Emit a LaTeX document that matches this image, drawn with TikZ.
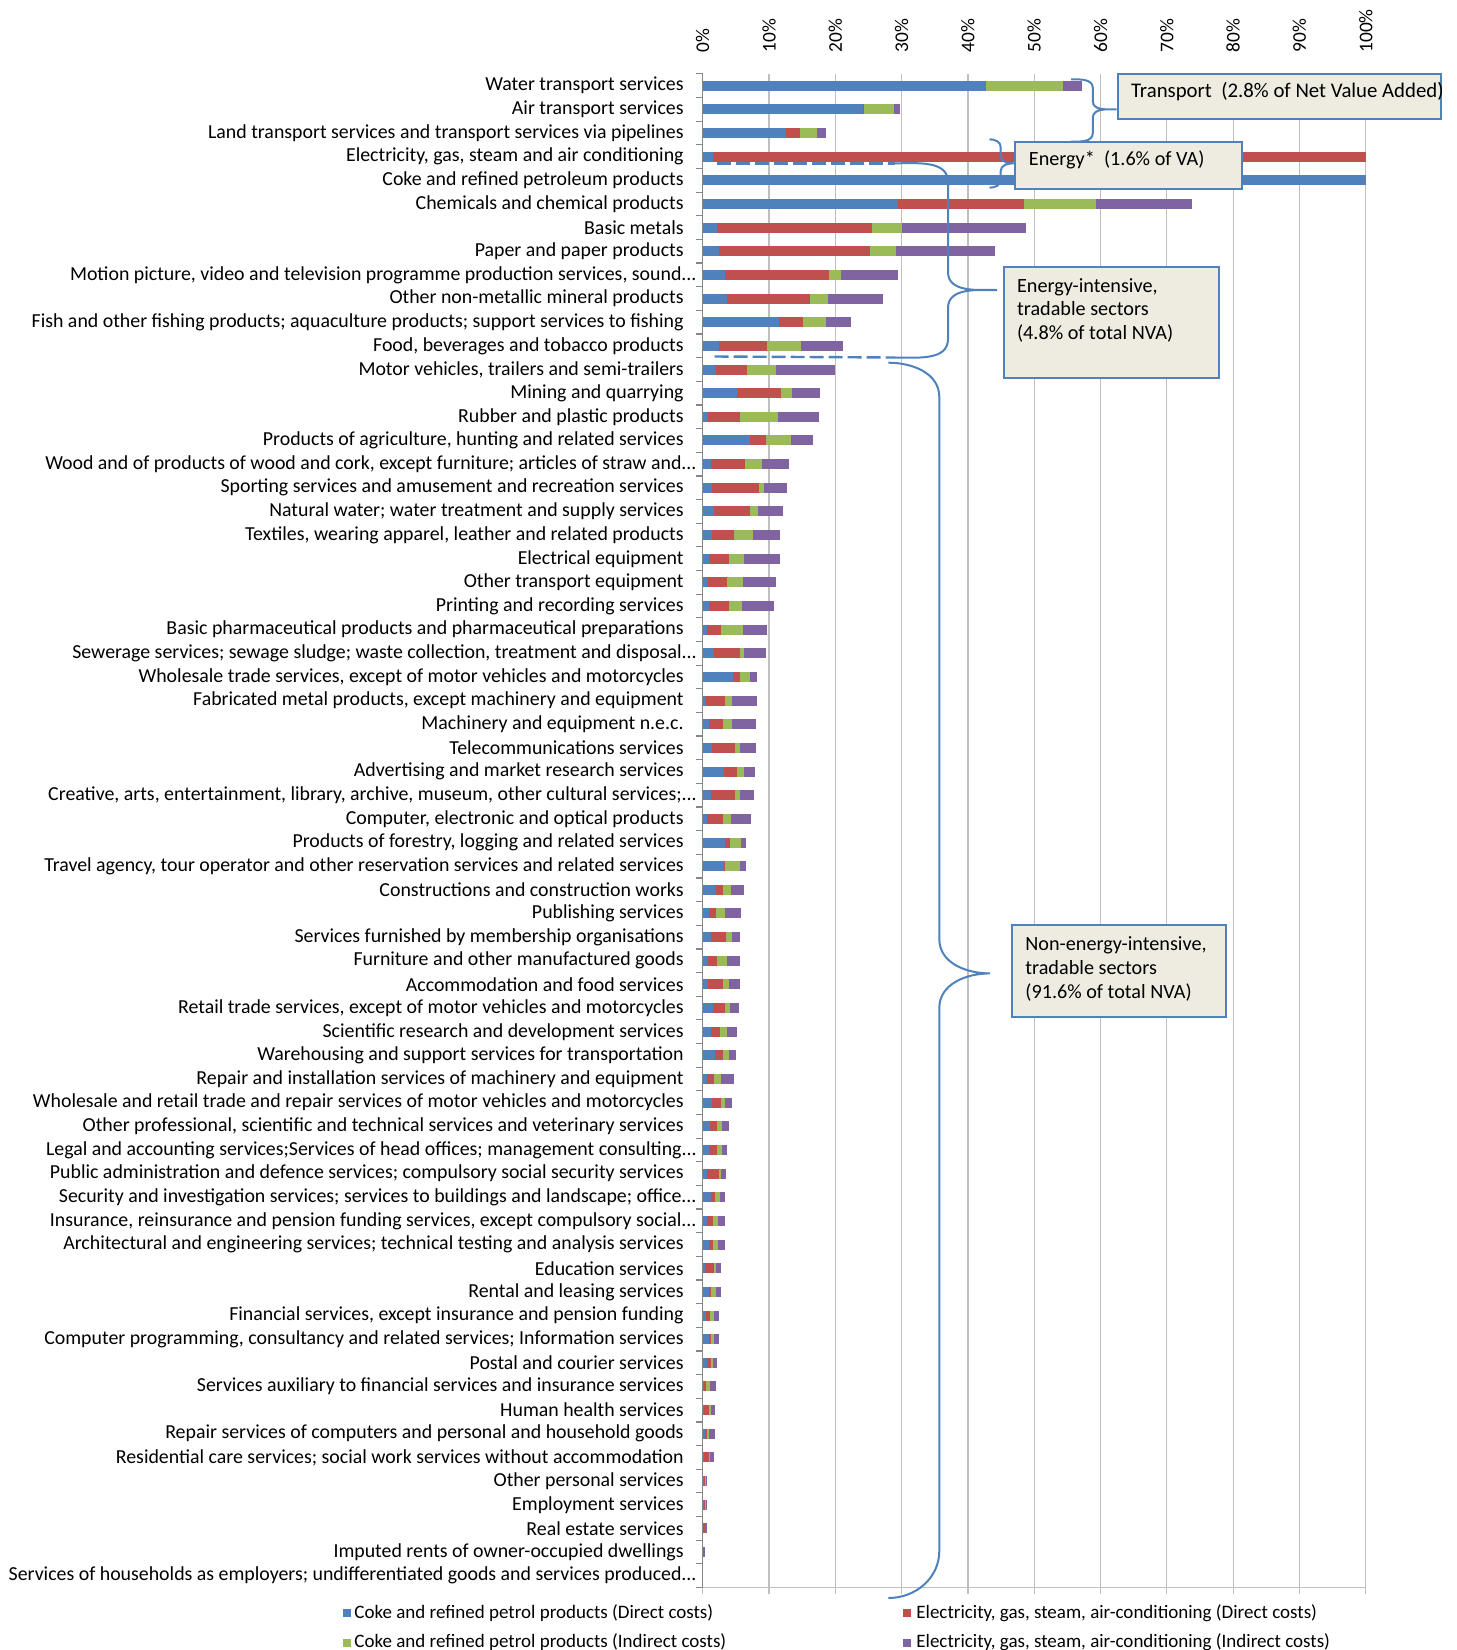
\documentclass[tikz,border=0pt]{standalone}
\usepackage{fontspec}
\setmainfont{Carlito}
\definecolor{cblue}{HTML}{4F81BD}
\definecolor{cred}{HTML}{C0504D}
\definecolor{cgreen}{HTML}{9BBB59}
\definecolor{cpurple}{HTML}{8064A2}
\definecolor{boxfill}{HTML}{EEECE1}
\definecolor{gridc}{HTML}{BFBFBF}
\definecolor{axisc}{HTML}{868686}
\tikzset{
  lab/.style={anchor=east, inner sep=0pt, font=\fontsize{9.93}{11}\selectfont},
  pct/.style={anchor=west, rotate=90, inner sep=0pt, font=\fontsize{9.7}{11}\selectfont},
  bracepath/.style={draw=cblue, line width=1pt},
  dashline/.style={draw=cblue, line width=1.2pt, dash pattern=on 7pt off 2.5pt},
  notebox/.style={draw=cblue, line width=1pt, fill=boxfill, inner sep=0pt, anchor=north west},
  notetext/.style={inner sep=0pt, align=left, font=\fontsize{10.1}{11.8}\selectfont},
  legtext/.style={anchor=west, inner sep=0pt, font=\fontsize{9.5}{11}\selectfont},
}
\begin{document}
\begin{tikzpicture}[x=0.5pt,y=-0.5pt]
\useasboundingbox (0,0) rectangle (1457,1650);
\clip (0,0) rectangle (1457,1650);
% gridlines
\foreach \k in {1,...,10} {
  \draw[gridc, line width=0.6pt] ({702.7+66.3*\k},73.9) -- ({702.7+66.3*\k},1587.5);
}
\foreach \k in {0,...,10} {
  \draw[gridc, line width=0.6pt] ({702.7+66.3*\k},1587.5) -- ({702.7+66.3*\k},1594);
  \node[pct] (p\k) at ({702.7+66.3*\k},53) {\pgfmathtruncatemacro\pp{10*\k}\pp\%};
}
\draw[gridc, line width=0.6pt] (702.7,1587.5) -- (1365.7,1587.5);
\draw[axisc, line width=0.6pt] (702.7,73.9) -- (702.7,1587.5);
\foreach \k in {0,...,64} {
  \draw[axisc, line width=0.6pt] (696,{73.875+23.65*\k}) -- (702.7,{73.875+23.65*\k});
}
% bars
\foreach \i/\a/\b/\c/\d in {
1/42.7/42.7/54.3/57.2, 2/24.2/24.4/28.8/29.8, 3/12.6/14.7/17.2/18.6, 4/1.5/100/100/100,
5/100/100/100/100, 6/29.4/48.5/59.3/73.8, 7/2.1/25.6/30.0/48.7, 8/2.4/25.3/29.1/44.1,
9/3.4/19.1/20.9/29.5, 10/3.7/16.2/18.9/27.2, 11/11.5/15.1/18.6/22.4, 12/2.5/9.7/14.8/21.1,
13/2.0/6.7/11.1/19.9, 14/5.1/11.8/13.5/17.7, 15/0.8/5.7/11.3/17.5, 16/7.2/9.5/13.3/16.6,
17/1.2/6.4/8.9/13.0, 18/1.4/8.5/9.3/12.7, 19/1.7/7.1/8.3/12.1, 20/1.4/4.7/7.6/11.7,
21/1.0/4.0/6.3/11.6, 22/0.8/3.6/6.1/11.0, 23/1.0/4.0/5.9/10.8, 24/0.6/2.8/6.1/9.7,
25/1.7/5.6/6.3/9.6, 26/4.6/5.7/7.1/8.2, 27/0.5/3.3/4.4/8.2, 28/1.0/3.0/4.4/8.0,
29/1.4/4.9/5.6/8.0, 30/3.2/5.2/6.2/7.9, 31/1.2/4.9/5.6/7.7, 32/0.7/3.0/4.3/7.3,
33/3.3/4.1/5.8/6.6, 34/3.2/3.3/5.6/6.6, 35/2.0/3.0/4.3/6.3, 36/1.0/2.0/3.3/5.8,
37/1.3/3.5/4.4/5.7, 38/0.8/2.2/3.6/5.7, 39/0.8/3.0/3.9/5.7, 40/1.5/3.4/4.1/5.5,
41/1.3/2.6/3.6/5.1, 42/1.8/3.1/3.9/5.0, 43/0.7/1.7/2.7/4.7, 44/1.4/2.8/3.4/4.4,
45/1.1/2.2/2.9/3.9, 46/1.0/2.2/2.9/3.7, 47/0.7/2.4/2.7/3.5, 48/1.3/1.9/2.6/3.4,
49/0.7/1.5/2.3/3.3, 50/1.0/1.6/2.3/3.3, 51/0.3/1.7/2.0/2.8, 52/1.0/1.3/2.0/2.7,
53/0.55/1.1/1.7/2.5, 54/1.0/1.3/1.7/2.4, 55/0.65/1.3/1.6/2.1, 56/0.2/0.5/1.1/2.0,
57/0.25/1.0/1.3/1.8, 58/0.35/0.65/1.0/1.8, 59/0.25/1.0/1.1/1.7, 60/0.2/0.35/0.5/0.65,
61/0.2/0.35/0.5/0.6, 62/0.0/0.35/0.35/0.6, 63/0/0/0/0.3, 64/0/0/0/0} {
  \pgfmathsetmacro\yy{85.7+(\i-1)*23.65}
  \fill[cblue] (702.7,{\yy-5}) rectangle ({702.7+6.63*\a},{\yy+5});
  \fill[cred] ({702.7+6.63*\a},{\yy-5}) rectangle ({702.7+6.63*\b},{\yy+5});
  \fill[cgreen] ({702.7+6.63*\b},{\yy-5}) rectangle ({702.7+6.63*\c},{\yy+5});
  \fill[cpurple] ({702.7+6.63*\c},{\yy-5}) rectangle ({702.7+6.63*\d},{\yy+5});
}
% labels
\def\lx{684}
\def\tx{697}
\node[lab] (l1) at (\lx,85.7) {Water transport services};
\node[lab] (l2) at (\lx,109.35) {Air transport services};
\node[lab] (l3) at (\lx,133.0) {Land transport services and transport services via pipelines};
\node[lab] (l4) at (\lx,156.65) {Electricity, gas, steam and air conditioning};
\node[lab] (l5) at (\lx,180.3) {Coke and refined petroleum products};
\node[lab] (l6) at (\lx,203.95) {Chemicals and chemical products};
\node[lab] (l7) at (\lx,227.6) {Basic metals};
\node[lab] (l8) at (\lx,251.25) {Paper and paper products};
\node[lab] (l9) at (\tx,274.9) {Motion picture, video and television programme production services, sound...};
\node[lab] (l10) at (\lx,298.55) {Other non-metallic mineral products};
\node[lab] (l11) at (\lx,322.2) {Fish and other fishing products; aquaculture products; support services to fishing};
\node[lab] (l12) at (\lx,345.85) {Food, beverages and tobacco products};
\node[lab] (l13) at (\lx,369.5) {Motor vehicles, trailers and semi-trailers};
\node[lab] (l14) at (\lx,393.15) {Mining and quarrying};
\node[lab] (l15) at (\lx,416.8) {Rubber and plastic products};
\node[lab] (l16) at (\lx,440.45) {Products of agriculture, hunting and related services};
\node[lab] (l17) at (\tx,464.1) {Wood and of products of wood and cork, except furniture; articles of straw and...};
\node[lab] (l18) at (\lx,487.75) {Sporting services and amusement and recreation services};
\node[lab] (l19) at (\lx,511.4) {Natural water; water treatment and supply services};
\node[lab] (l20) at (\lx,535.05) {Textiles, wearing apparel, leather and related products};
\node[lab] (l21) at (\lx,558.7) {Electrical equipment};
\node[lab] (l22) at (\lx,582.35) {Other transport equipment};
\node[lab] (l23) at (\lx,606.0) {Printing and recording services};
\node[lab] (l24) at (\lx,629.65) {Basic pharmaceutical products and pharmaceutical preparations};
\node[lab] (l25) at (\tx,653.3) {Sewerage services; sewage sludge; waste collection, treatment and disposal...};
\node[lab] (l26) at (\lx,676.95) {Wholesale trade services, except of motor vehicles and motorcycles};
\node[lab] (l27) at (\lx,700.6) {Fabricated metal products, except machinery and equipment};
\node[lab] (l28) at (\lx,724.25) {Machinery and equipment n.e.c.};
\node[lab] (l29) at (\lx,747.9) {Telecommunications services};
\node[lab] (l30) at (\lx,771.55) {Advertising and market research services};
\node[lab] (l31) at (\tx,795.2) {Creative, arts, entertainment, library, archive, museum, other cultural services;...};
\node[lab] (l32) at (\lx,818.85) {Computer, electronic and optical products};
\node[lab] (l33) at (\lx,842.5) {Products of forestry, logging and related services};
\node[lab] (l34) at (\lx,866.15) {Travel agency, tour operator and other reservation services and related services};
\node[lab] (l35) at (\lx,889.8) {Constructions and construction works};
\node[lab] (l36) at (\lx,913.45) {Publishing services};
\node[lab] (l37) at (\lx,937.1) {Services furnished by membership organisations};
\node[lab] (l38) at (\lx,960.75) {Furniture and other manufactured goods};
\node[lab] (l39) at (\lx,984.4) {Accommodation and food services};
\node[lab] (l40) at (\lx,1008.05) {Retail trade services, except of motor vehicles and motorcycles};
\node[lab] (l41) at (\lx,1031.7) {Scientific research and development services};
\node[lab] (l42) at (\lx,1055.35) {Warehousing and support services for transportation};
\node[lab] (l43) at (\lx,1079.0) {Repair and installation services of machinery and equipment};
\node[lab] (l44) at (\lx,1102.65) {Wholesale and retail trade and repair services of motor vehicles and motorcycles};
\node[lab] (l45) at (\lx,1126.3) {Other professional, scientific and technical services and veterinary services};
\node[lab] (l46) at (\tx,1149.95) {Legal and accounting services;Services of head offices; management consulting...};
\node[lab] (l47) at (\lx,1173.6) {Public administration and defence services; compulsory social security services};
\node[lab] (l48) at (\tx,1197.25) {Security and investigation services; services to buildings and landscape; office...};
\node[lab] (l49) at (\tx,1220.9) {Insurance, reinsurance and pension funding services, except compulsory social...};
\node[lab] (l50) at (\lx,1244.55) {Architectural and engineering services; technical testing and analysis services};
\node[lab] (l51) at (\lx,1268.2) {Education services};
\node[lab] (l52) at (\lx,1291.85) {Rental and leasing services};
\node[lab] (l53) at (\lx,1315.5) {Financial services, except insurance and pension funding};
\node[lab] (l54) at (\lx,1339.15) {Computer programming, consultancy and related services; Information services};
\node[lab] (l55) at (\lx,1362.8) {Postal and courier services};
\node[lab] (l56) at (\lx,1386.45) {Services auxiliary to financial services and insurance services};
\node[lab] (l57) at (\lx,1410.1) {Human health services};
\node[lab] (l58) at (\lx,1433.75) {Repair services of computers and personal and household goods};
\node[lab] (l59) at (\lx,1457.4) {Residential care services; social work services without accommodation};
\node[lab] (l60) at (\lx,1481.05) {Other personal services};
\node[lab] (l61) at (\lx,1504.7) {Employment services};
\node[lab] (l62) at (\lx,1528.35) {Real estate services};
\node[lab] (l63) at (\lx,1552.0) {Imputed rents of owner-occupied dwellings};
\node[lab] (l64) at (\tx,1575.65) {Services of households as employers; undifferentiated goods and services produced...};
% braces
\draw[bracepath] (1071,79.3) to[out=0,in=90] (1092.8,88) -- (1092.8,101) to[out=-90,in=180] (1116.6,109.3)
  to[out=180,in=90] (1092.8,118) -- (1092.8,133) to[out=-90,in=0] (1071,141.7);
\draw[bracepath] (989.5,139.3) to[out=0,in=90] (1000.7,147) -- (1000.7,156) to[out=-90,in=180] (1013.9,163.3)
  to[out=180,in=90] (1000.7,171) -- (1000.7,180) to[out=-90,in=0] (989.5,187.7);
\draw[dashline] (717,163.3) -- (895,163.3);
\draw[bracepath] (895,163.3) to[out=0,in=90] (948,182) -- (948,272) to[out=-90,in=180] (997,290)
  to[out=180,in=90] (948,308) -- (948,339) to[out=-90,in=0] (895,357.5);
\draw[dashline] (714.5,356.5) -- (895,357.5);
\draw[bracepath] (888.3,362.7) to[out=0,in=90] (939.3,397) -- (939.3,939) to[out=-90,in=180] (990,973.4)
  to[out=180,in=90] (939.3,1008) -- (939.3,1551) to[out=-90,in=0] (888.3,1598);
% boxes
\node[notebox, minimum width=161.7pt, minimum height=22.65pt] (tbox) at (1116.6,72.7) {};
\node[notetext, anchor=west, font=\fontsize{10.4}{11.8}\selectfont] (ttext) at (1130.7,92) {Transport\ \ (2.8\% of Net Value Added)};
\node[notebox, minimum width=113.7pt, minimum height=23.65pt] (ebox) at (1013.9,141) {};
\node[notetext, anchor=west] (etext) at (1028.5,160) {Energy*\ \ (1.6\% of VA)};
\node[notebox, minimum width=107.7pt, minimum height=55.3pt] (eibox) at (1002.5,266.2) {};
\node[notetext, anchor=north west] (eitext) at (1016.7,278) {Energy-intensive,\\tradable sectors\\(4.8\% of total NVA)};
\node[notebox, minimum width=107.3pt, minimum height=46pt] (nebox) at (1010.7,924) {};
\node[notetext, anchor=north west] (netext) at (1025,936.5) {Non-energy-intensive,\\tradable sectors\\(91.6\% of total NVA)};
% legend
\fill[cblue] (342.5,1609.3) rectangle (350.5,1617.3);
\node[legtext] (lg1) at (354,1613.3) {Coke and refined petrol products (Direct costs)};
\fill[cred] (902.5,1609.3) rectangle (910.5,1617.3);
\node[legtext] (lg2) at (916,1613.3) {Electricity, gas, steam, air-conditioning (Direct costs)};
\fill[cgreen] (342.5,1638.5) rectangle (350.5,1646.5);
\node[legtext] (lg3) at (354,1642.5) {Coke and refined petrol products (Indirect costs)};
\fill[cpurple] (902.5,1638.5) rectangle (910.5,1646.5);
\node[legtext] (lg4) at (916,1642.5) {Electricity, gas, steam, air-conditioning (Indirect costs)};
\end{tikzpicture}
\end{document}
